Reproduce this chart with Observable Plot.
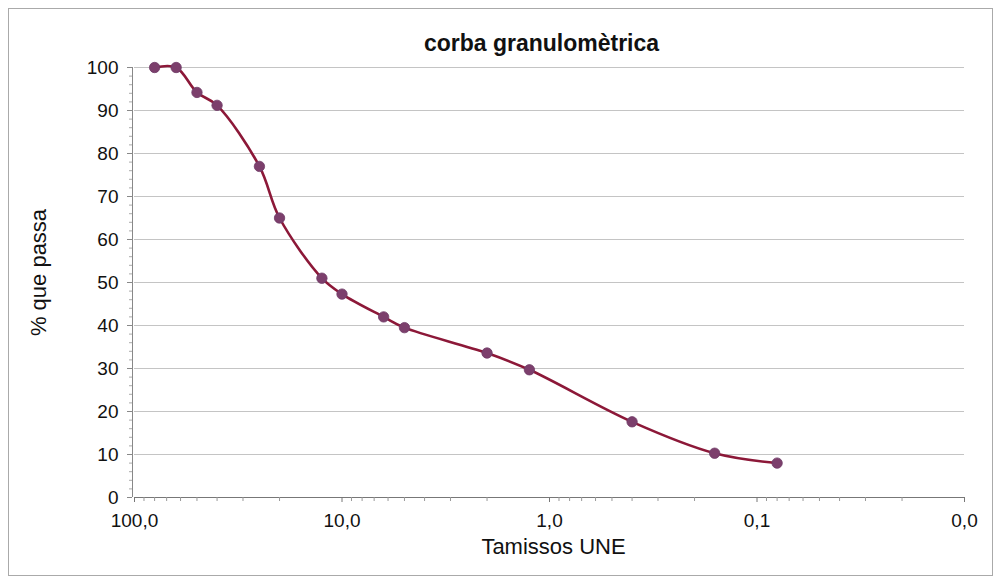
<!DOCTYPE html>
<html><head><meta charset="utf-8">
<script src="https://cdn.jsdelivr.net/npm/d3@7"></script>
<script src="https://cdn.jsdelivr.net/npm/@observablehq/plot@0.6"></script>
<style>
body{margin:0;background:#fff;font-family:"Liberation Sans",Arial,sans-serif}
#wrap{position:relative;width:994px;height:580px;overflow:hidden}
#wrap svg{position:absolute;left:0;top:0}
#frame{position:absolute;left:8px;top:8px;width:985px;height:568px;border:1px solid #aaa;box-sizing:border-box;pointer-events:none}
</style></head><body><div id="wrap"><div id="frame"></div></div>
<script>
// Sieve sizes (mm) and % passing
const sieves  = [80, 63, 50, 40, 25, 20, 12.5, 10, 6.3, 5, 2, 1.25, 0.4, 0.16, 0.08];
const passing = [100, 100, 94.2, 91.2, 77, 65, 51, 47.3, 42, 39.5, 33.6, 29.7, 17.6, 10.3, 8];
const xTicks = [100, 10, 1, 0.1, 0.01];
const yTicks = [0, 10, 20, 30, 40, 50, 60, 70, 80, 90, 100];
const title = "corba granulomètrica";
const xLabel = "Tamissos UNE";
const yLabel = "% que passa";

const data = sieves.map((s, i) => ({s, p: passing[i]}));
const xMinor = d3.range(-2, 2).flatMap(e => d3.range(2, 10).map(k => k * Math.pow(10, e)));
const yMinor = d3.range(0, 101, 2).filter(v => v % 10 !== 0);
const fmt = v => d3.format(".1f")(v).replace(".", ",");

const chart = Plot.plot({
  width: 994,
  height: 580,
  marginLeft: 134,
  marginRight: 30,
  marginTop: 67,
  marginBottom: 83,
  style: {fontFamily: "'Liberation Sans', Arial, sans-serif", background: "transparent"},
  x: {type: "log", domain: [100, 0.01]},
  y: {type: "linear", domain: [0, 100]},
  marks: [
    Plot.ruleY(yTicks.filter(v => v > 0), {stroke: "#c4c4c4", strokeWidth: 1}),
    Plot.ruleY([0], {stroke: "#777", strokeWidth: 1.2}),
    Plot.ruleX([100], {stroke: "#888", strokeWidth: 1, dx: -2}),
    Plot.axisX({ticks: xMinor, tickFormat: () => "", tickSize: 4, stroke: "#999", label: null}),
    Plot.axisY({ticks: yMinor, tickFormat: () => "", tickSize: 3, stroke: "#aaa", label: null, dx: -2}),
    Plot.axisX({ticks: xTicks, tickFormat: fmt, tickSize: 5, tickPadding: 11, fontSize: 19, label: null, color: "#111", stroke: "#777"}),
    Plot.axisY({ticks: yTicks, tickSize: 5, tickPadding: 9, fontSize: 19, label: null, color: "#111", stroke: "#888", dx: -2}),
    Plot.line(data, {x: "s", y: "p", curve: "catmull-rom", stroke: "#8c1838", strokeWidth: 2.6}),
    Plot.dot(data, {x: "s", y: "p", r: 5.2, fill: "#7c3f6c", stroke: "#6e3a66", strokeWidth: 0.8}),
    Plot.text([title], {frameAnchor: "top", dy: -33, dx: -8, fontSize: 23, fontWeight: "bold", fill: "#111"}),
    Plot.text([xLabel], {frameAnchor: "bottom", dy: 56, dx: 4, fontSize: 22, fill: "#111"}),
    Plot.text([yLabel], {frameAnchor: "left", textAnchor: "middle", dx: -96, dy: -10, rotate: -90, fontSize: 22, fill: "#111"})
  ]
});
document.getElementById("wrap").prepend(chart);
</script>
</body></html>
